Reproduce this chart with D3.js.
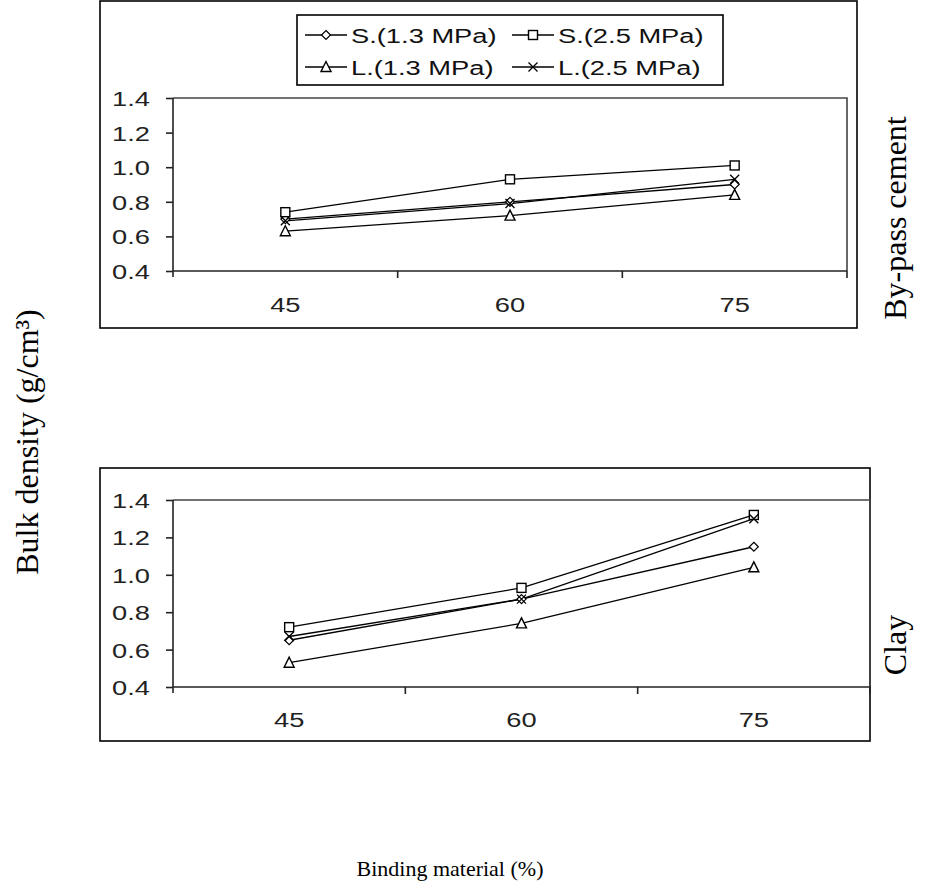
<!DOCTYPE html>
<html>
<head>
<meta charset="utf-8">
<script src="https://cdn.jsdelivr.net/npm/d3@7/dist/d3.min.js"></script>
<style>
  html, body { margin: 0; padding: 0; background: #fff; }
  svg { display: block; }
</style>
</head>
<body>
<svg id="chart" width="936" height="891"></svg>
<script>
// ---- data ----
const categories = ["45", "60", "75"];
const yTicks = [0.4, 0.6, 0.8, 1.0, 1.2, 1.4];
const seriesNames = ["S.(1.3 MPa)", "S.(2.5 MPa)", "L.(1.3 MPa)", "L.(2.5 MPa)"];
const seriesMarkers = ["diamond", "square", "triangle", "cross"];
// By-pass cement panel
const bypassS13 = [0.70, 0.80, 0.90];
const bypassS25 = [0.74, 0.93, 1.01];
const bypassL13 = [0.63, 0.72, 0.84];
const bypassL25 = [0.69, 0.79, 0.93];
// Clay panel
const clayS13 = [0.65, 0.87, 1.15];
const clayS25 = [0.72, 0.93, 1.32];
const clayL13 = [0.53, 0.74, 1.04];
const clayL25 = [0.67, 0.87, 1.30];

const svg = d3.select("#chart");
const sansFont = "'Liberation Sans', Arial, sans-serif";
const serifFont = "'Liberation Serif', 'Times New Roman', serif";
const SANS_SIZE = 21, SANS_STRETCH = 1.3;

function marker(g, type, cx, cy) {
  const s = 4.5;
  if (type === "diamond") {
    g.append("path").attr("d", `M${cx},${cy-s}L${cx+s},${cy}L${cx},${cy+s}L${cx-s},${cy}Z`)
      .attr("fill", "#fff").attr("stroke", "#000").attr("stroke-width", 1.2);
  } else if (type === "square") {
    g.append("rect").attr("x", cx - s).attr("y", cy - s).attr("width", 2*s).attr("height", 2*s)
      .attr("fill", "#fff").attr("stroke", "#000").attr("stroke-width", 1.4);
  } else if (type === "triangle") {
    g.append("path").attr("d", `M${cx},${cy-s-1}L${cx+s+0.5},${cy+s}L${cx-s-0.5},${cy+s}Z`)
      .attr("fill", "#fff").attr("stroke", "#000").attr("stroke-width", 1.4);
  } else if (type === "cross") {
    g.append("path").attr("d", `M${cx-s},${cy-s}L${cx+s},${cy+s}M${cx-s},${cy+s}L${cx+s},${cy-s}`)
      .attr("fill", "none").attr("stroke", "#000").attr("stroke-width", 1.3);
  }
}

function panel(opts) {
  const { box, plot, data, legend, xLabelY } = opts;
  const g = svg.append("g");
  g.append("rect").attr("x", box.x0).attr("y", box.y0)
    .attr("width", box.x1 - box.x0).attr("height", box.y1 - box.y0)
    .attr("fill", "none").attr("stroke", "#000").attr("stroke-width", 1.6);

  const x = d3.scaleBand().domain(categories).range([plot.x0, plot.x1]).padding(0);
  const y = d3.scaleLinear().domain([0.4, 1.4]).range([plot.y1, plot.y0]);

  // plot area border (top/right)
  g.append("path")
    .attr("d", `M${plot.x0},${plot.y0}H${plot.x1}V${plot.y1}`)
    .attr("fill", "none").attr("stroke", "#444").attr("stroke-width", 1.6);

  // y axis
  const ya = g.append("g").attr("transform", `translate(${plot.x0},0)`)
    .call(d3.axisLeft(y).tickValues(yTicks).tickFormat(d3.format(".1f")).tickSize(7).tickPadding(4));
  ya.select(".domain").attr("stroke", "#222").attr("stroke-width", 1.6).attr("d", `M0,${plot.y0}V${plot.y1 + 6}`);
  ya.selectAll(".tick line").attr("stroke", "#222").attr("stroke-width", 1.6);
  ya.selectAll(".tick text").attr("font-family", sansFont).attr("font-size", SANS_SIZE).attr("fill", "#222")
    .attr("text-anchor", "end").attr("x", null).attr("dy", "0.36em")
    .attr("transform", `translate(-23,0) scale(${SANS_STRETCH},1)`);

  // x axis (labels centred in each category band)
  const xa = g.append("g").attr("transform", `translate(0,${plot.y1})`)
    .call(d3.axisBottom(x).tickSize(0).tickPadding(0));
  xa.select(".domain").attr("stroke", "#222").attr("stroke-width", 1.6).attr("d", `M${plot.x0},0H${plot.x1}`);
  xa.selectAll(".tick").attr("transform", d => `translate(${x(d) + x.bandwidth() / 2},0)`);
  xa.selectAll(".tick text").attr("font-family", sansFont).attr("font-size", SANS_SIZE).attr("fill", "#222")
    .attr("y", null).attr("dy", "0.36em")
    .attr("transform", `translate(0,${xLabelY}) scale(${SANS_STRETCH},1)`);
  // boundary ticks between categories
  const bounds = categories.map(c => x(c) + x.bandwidth());
  g.selectAll(".btick").data(bounds).enter().append("line")
    .attr("x1", d => d).attr("x2", d => d).attr("y1", plot.y1).attr("y2", plot.y1 + 7)
    .attr("stroke", "#222").attr("stroke-width", 1.6);

  // series
  const line = d3.line().x((d, i) => x(categories[i]) + x.bandwidth() / 2).y(d => y(d));
  data.forEach((vals) => {
    g.append("path").datum(vals).attr("d", line)
      .attr("fill", "none").attr("stroke", "#000").attr("stroke-width", 1.3);
  });
  data.forEach((vals, si) => {
    vals.forEach((v, i) => marker(g, seriesMarkers[si], x(categories[i]) + x.bandwidth() / 2, y(v)));
  });

  if (legend) {
    const lg = g.append("g");
    lg.append("rect").attr("x", legend.x0).attr("y", legend.y0)
      .attr("width", legend.x1 - legend.x0).attr("height", legend.y1 - legend.y0)
      .attr("fill", "#fff").attr("stroke", "#000").attr("stroke-width", 1.6);
    seriesNames.forEach((name, i) => {
      const col = i % 2, row = Math.floor(i / 2);
      const lx = legend.x0 + 8 + col * 207;
      const ly = legend.y0 + 20 + row * 32;
      lg.append("line").attr("x1", lx).attr("x2", lx + 42).attr("y1", ly).attr("y2", ly)
        .attr("stroke", "#000").attr("stroke-width", 1.3);
      marker(lg, seriesMarkers[i], lx + 21, ly);
      lg.append("text").attr("transform", `translate(${lx + 46},${ly}) scale(${SANS_STRETCH},1)`)
        .attr("dy", "0.36em").attr("font-family", sansFont).attr("font-size", SANS_SIZE).attr("fill", "#111")
        .text(name);
    });
  }
}

panel({
  box: { x0: 100, y0: 1, x1: 857, y1: 328 },
  plot: { x0: 173, y0: 98, x1: 847, y1: 271 },
  data: [bypassS13, bypassS25, bypassL13, bypassL25],
  legend: { x0: 297, y0: 15, x1: 723, y1: 85 },
  xLabelY: 33
});

panel({
  box: { x0: 100, y0: 468, x1: 870, y1: 741 },
  plot: { x0: 173, y0: 500, x1: 870, y1: 687 },
  data: [clayS13, clayS25, clayL13, clayL25],
  legend: null,
  xLabelY: 32
});

// axis titles
svg.append("text").attr("transform", "translate(38,442) rotate(-90)")
  .attr("text-anchor", "middle").attr("font-family", serifFont).attr("font-size", 32)
  .text("Bulk density (g/cm³)");
svg.append("text").attr("x", 450).attr("y", 876)
  .attr("text-anchor", "middle").attr("font-family", serifFont).attr("font-size", 22)
  .text("Binding material (%)");
svg.append("text").attr("transform", "translate(906,218) rotate(-90)")
  .attr("text-anchor", "middle").attr("font-family", serifFont).attr("font-size", 32)
  .text("By-pass cement");
svg.append("text").attr("transform", "translate(906,645) rotate(-90)")
  .attr("text-anchor", "middle").attr("font-family", serifFont).attr("font-size", 32)
  .text("Clay");
</script>
</body>
</html>
